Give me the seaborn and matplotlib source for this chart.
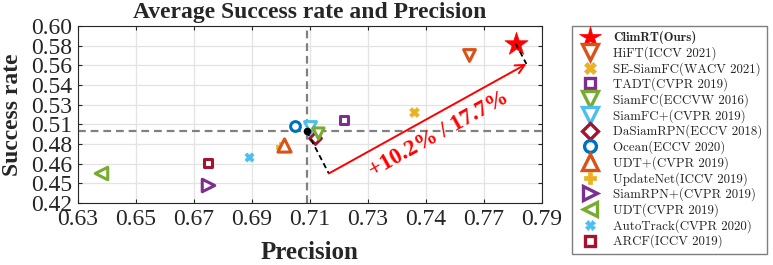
import numpy as np
import pandas as pd
import matplotlib
matplotlib.use('Agg')
import matplotlib.pyplot as plt
import seaborn as sns
from matplotlib.lines import Line2D

# tracker results (precision, success rate)
methods = ['ClimRT(Ours)', 'HiFT(ICCV 2021)', 'SE-SiamFC(WACV 2021)', 'TADT(CVPR 2019)',
           'SiamFC(ECCVW 2016)', 'SiamFC+(CVPR 2019)', 'DaSiamRPN(ECCV 2018)', 'Ocean(ECCV 2020)',
           'UDT+(CVPR 2019)', 'UpdateNet(ICCV 2019)', 'SiamRPN+(CVPR 2019)', 'UDT(CVPR 2019)',
           'AutoTrack(CVPR 2020)', 'ARCF(ICCV 2019)']
precision = [0.781, 0.765, 0.746, 0.722, 0.713, 0.710, 0.712, 0.705,
             0.701, 0.700, 0.675, 0.638, 0.689, 0.675]
success = [0.582, 0.570, 0.513, 0.504, 0.491, 0.497, 0.486, 0.498,
           0.479, 0.477, 0.438, 0.450, 0.467, 0.461]

avg_precision = 0.709
avg_success = 0.493
gain_corner = (0.7166, 0.450)
gain_tip = (0.7847, 0.5614)
gain_text = '+10.2% / 17.7%'
gain_text_pos = (0.7545, 0.4895)

x_ticks = np.arange(0.63, 0.7901, 0.02)
x_ticklabels = ['0.63', '0.65', '0.67', '0.69', '0.71', '0.73', '0.74', '0.77', '0.79']
y_ticks = np.arange(0.42, 0.6001, 0.02)
y_ticklabels = ['0.42', '0.45', '0.46', '0.48', '0.51', '0.53', '0.54', '0.56', '0.58', '0.60']

# styles
colors = ['#FF0000', '#D95319', '#EDB120', '#7E2F8E', '#77AC30', '#4DBEEE', '#A2142F',
          '#0072BD', '#D95319', '#EDB120', '#7E2F8E', '#77AC30', '#4DBEEE', '#A2142F']
markers = ['*', 'v', 'X', 's', 'v', 'v', 'D', 'o', '^', 'P', '>', '<', 'X', 's']
hollow = [False, True, False, True, True, True, True, True, True, False, True, True, False, True]
plot_ms = [17.5, 8.5, 7, 6, 8, 8.5, 6, 7, 9.5, 6.5, 9, 9, 6.5, 6]
legend_ms = [16, 11, 8, 7, 11, 11, 8, 8.5, 11, 8, 10, 10, 7, 7]

sns.set_style('ticks')
plt.rcParams['font.family'] = ['Liberation Serif', 'DejaVu Serif']

fig = plt.figure(figsize=(7.73, 2.65), dpi=100)
ax = fig.add_axes([0.1003, 0.234, 0.6006, 0.668])

ax.axvline(avg_precision, color='#808080', ls='--', lw=1.6, dashes=(3.5, 2.2), zorder=1)
ax.axhline(avg_success, color='#808080', ls='--', lw=1.6, dashes=(3.5, 2.2), zorder=1)

df = pd.DataFrame({'method': methods, 'precision': precision, 'success': success})
for i, row in df.iterrows():
    face = 'white' if hollow[i] else colors[i]
    lw = 2.2 if hollow[i] else 0.5
    sns.scatterplot(x=[row['precision']], y=[row['success']], marker=markers[i],
                    s=plot_ms[i] ** 2, color=face, edgecolor=colors[i], linewidth=lw,
                    ax=ax, zorder=3 + (14 - i) * 0.01, legend=False)

# average point and improvement arrow
ax.plot([avg_precision], [avg_success], 'o', color='black', ms=4.5, zorder=5)
ax.plot([avg_precision, gain_corner[0]], [avg_success, gain_corner[1]],
        color='black', ls='--', lw=1.3, dashes=(3, 2), zorder=5)
ax.annotate('', xy=gain_tip, xytext=gain_corner,
            arrowprops=dict(arrowstyle='->', color='red', lw=1.4, mutation_scale=16,
                            shrinkA=0, shrinkB=0), zorder=5)
ax.plot([precision[0], gain_tip[0]], [success[0], gain_tip[1]],
        color='black', ls='--', lw=1.3, dashes=(3, 2), zorder=5)
ax.text(gain_text_pos[0], gain_text_pos[1], gain_text, color='red', fontsize=16.5,
        fontweight='bold', rotation=29, ha='center', va='center', rotation_mode='anchor',
        zorder=6)

ax.set_xlim(0.63, 0.79)
ax.set_ylim(0.42, 0.60)
ax.set_xticks(x_ticks)
ax.set_xticklabels(x_ticklabels)
ax.set_yticks(y_ticks)
ax.set_yticklabels(y_ticklabels)
ax.tick_params(axis='both', direction='in', length=3, width=0.8, labelsize=17,
               colors='#262626', top=True, right=True, pad=4)
ax.grid(True, color='#e3e3e3', lw=0.9, zorder=0)
ax.set_axisbelow(True)
for sp in ax.spines.values():
    sp.set_color('#262626')
    sp.set_linewidth(0.8)

ax.set_title('Average Success rate and Precision', fontsize=17, fontweight='bold', pad=6)
ax.set_xlabel('Precision', fontsize=18, fontweight='bold', color='#262626', labelpad=8)
ax.set_ylabel('Success rate', fontsize=17, fontweight='bold', color='#262626')
ax.yaxis.set_label_coords(-0.118, 0.5)

handles = []
for i in range(len(methods)):
    face = 'white' if hollow[i] else colors[i]
    handles.append(Line2D([], [], ls='none', marker=markers[i], ms=legend_ms[i],
                          mfc=face, mec=colors[i], mew=2.4 if hollow[i] else 0.5))
leg = fig.legend(handles, methods, loc='upper left', bbox_to_anchor=(0.7396, 0.902),
                 borderaxespad=0, prop={'family': 'cmr10', 'size': 9.3},
                 labelspacing=0.15, handlelength=2.0, handletextpad=0.8,
                 fancybox=False, framealpha=1, edgecolor='#7f7f7f', borderpad=0.4)
leg.get_frame().set_linewidth(1.0)
leg.get_texts()[0].set_fontfamily('cmb10')

fig.savefig('out.png', dpi=100)
